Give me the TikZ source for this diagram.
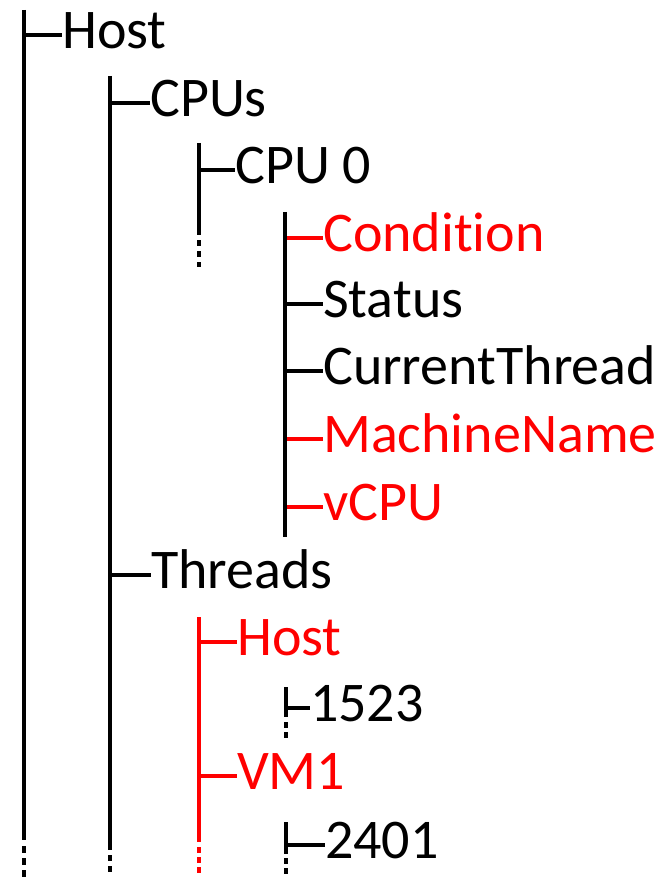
\documentclass[tikz,border=0pt]{standalone}
\usepackage{fontspec}
\setmainfont{Carlito}[Ligatures=NoCommon]
\begin{document}
\begin{tikzpicture}[x=1pt,y=1pt,
  trunk/.style={line width=4.5pt},
  thin trunk/.style={line width=3.5pt},
  tick/.style={line width=4pt},
  lbl/.style={anchor=mid west, inner sep=0pt, font=\fontsize{56}{67}\selectfont},
  hl/.style={red}]
% body font size, so that 1ex (used by the mid anchors) is the label's x-height
\fontsize{56}{67}\selectfont
\useasboundingbox (0,0) rectangle (669,-877);

% labels, one per row
\node[lbl]    (host)    at (62,-35)  {Host};
\node[lbl]    (cpus)    at (150,-103) {CPUs};
\node[lbl]    (cpu0)    at (235,-170) {CPU 0};
\node[lbl,hl] (cond)    at (323,-238) {Condition};
\node[lbl]    (status)  at (323,-304) {Status};
\node[lbl]    (curthr)  at (323,-371) {CurrentThread};
\node[lbl,hl] (mach)    at (323,-439) {MachineName};
\node[lbl,hl] (vcpu)    at (323,-507) {vCPU};
\node[lbl]    (threads) at (151,-575) {Threads};
\node[lbl,hl] (thost)   at (237,-642) {Host};
\node[lbl]    (t1523)   at (310,-708) {1523};
\node[lbl,hl] (vm1)     at (237,-776) {VM1};
\node[lbl]    (t2401)   at (325,-845) {2401};

% trunk anchors
\coordinate (c1) at (24,-10);
\coordinate (c2) at (110,-76);
\coordinate (c3) at (199,-143);
\coordinate (c4) at (285,-212);
\coordinate (c5) at (199,-617);
\coordinate (c6) at (286,-687);
\coordinate (c7) at (286,-822);

% ticks
\draw[tick] (c1 |- host.mid) -- (host.mid west);
\draw[tick] (c2 |- cpus.mid) -- (cpus.mid west);
\draw[tick] (c2 |- threads.mid) -- (threads.mid west);
\draw[tick] (c3 |- cpu0.mid) -- (cpu0.mid west);
\draw[tick,hl] (c4 |- cond.mid) -- (cond.mid west);
\draw[tick] (c4 |- status.mid) -- (status.mid west);
\draw[tick] (c4 |- curthr.mid) -- (curthr.mid west);
\draw[tick,hl] (c4 |- mach.mid) -- (mach.mid west);
\draw[tick,hl] (c4 |- vcpu.mid) -- (vcpu.mid west);
\draw[tick,hl] (c5 |- thost.mid) -- (thost.mid west);
\draw[tick,hl] (c5 |- vm1.mid) -- (vm1.mid west);
\draw[tick] (c6 |- t1523.mid) -- (t1523.mid west);
\draw[tick] (c7 |- t2401.mid) -- (t2401.mid west);

% trunks with dotted continuations
\draw[trunk] (c1) -- ++(0,-830);
\draw[trunk,dash pattern=on 7pt off 5pt] (24,-846) -- (24,-877);
\draw[trunk] (c2) -- ++(0,-774);
\draw[trunk,dash pattern=on 6pt off 5pt] (110,-855) -- (110,-872);
\draw[trunk] (c3) -- ++(0,-92);
\draw[trunk,dash pattern=on 6pt off 5pt] (199,-240) -- (199,-267);
\draw[trunk] (c4) -- ++(0,-325);
\draw[trunk,hl] (c5) -- ++(0,-225);
\draw[trunk,hl,dash pattern=on 6pt off 4pt] (199,-847) -- (199,-877);
\draw[thin trunk] (c6) -- ++(0,-30);
\draw[thin trunk,dash pattern=on 6pt off 4pt] (286,-722) -- (286,-740);
\draw[thin trunk] (c7) -- ++(0,-32);
\draw[thin trunk,dash pattern=on 6pt off 4pt] (286,-858) -- (286,-877);
\end{tikzpicture}
\end{document}
